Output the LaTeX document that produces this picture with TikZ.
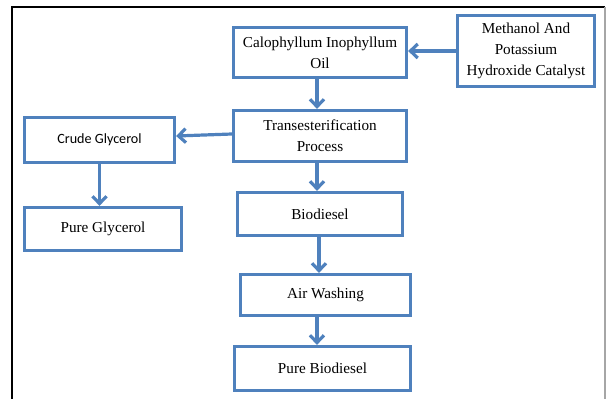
\documentclass[tikz,border=0pt]{standalone}
\usepackage{fontspec}
\setmainfont{Liberation Serif}
\newfontfamily\calibrifont{Carlito}
\usetikzlibrary{arrows.meta}
\definecolor{boxblue}{HTML}{4F81BD}
\tikzset{
  flowbox/.style={draw=boxblue, line width=2.4pt, rectangle, align=center,
    font=\fontsize{11.4pt}{15.5pt}\selectfont, inner sep=2pt},
  sansbox/.style={flowbox, font=\calibrifont\fontsize{10.6pt}{14pt}\selectfont},
  flowarrow/.style={draw=boxblue, line width=2.4pt,
    -{Straight Barb[length=5.5pt,width=10.5pt,line width=2.4pt]}}
}
\begin{document}
\begin{tikzpicture}[x=0.75pt,y=-0.75pt]
\useasboundingbox (0,0) rectangle (606,399);
% outer frame
\draw[line width=1.6pt] (12,399) -- (12,7) -- (605,7);
\draw[line width=0.8pt, gray!70] (605,7) -- (605,399);
% boxes
\node[flowbox, minimum width=173*0.75pt, minimum height=50*0.75pt] (cal) at (320,52.5) {Calophyllum Inophyllum\\Oil};
\node[flowbox, minimum width=137*0.75pt, minimum height=71*0.75pt] (meth) at (526,51) {Methanol And\\Potassium\\Hydroxide Catalyst};
\node[flowbox, minimum width=173*0.75pt, minimum height=51*0.75pt] (trans) at (320,136) {Transesterification\\Process};
\node[sansbox, minimum width=150*0.75pt, minimum height=45*0.75pt] (crude) at (99.5,140) {Crude Glycerol};
\node[flowbox, minimum width=157*0.75pt, minimum height=43*0.75pt] (pglyc) at (103,229) {Pure Glycerol};
\node[flowbox, minimum width=165*0.75pt, minimum height=43*0.75pt] (bio) at (320,214) {Biodiesel};
\node[flowbox, minimum width=170*0.75pt, minimum height=41*0.75pt] (air) at (325.5,295) {Air Washing};
\node[flowbox, minimum width=176*0.75pt, minimum height=44*0.75pt] (pbio) at (322.5,368.5) {Pure Biodiesel};
% arrows
\draw[flowarrow] (meth.west) -- (meth.west -| cal.east);
\draw[flowarrow] ([xshift=-2.25pt]cal.south) -- ([xshift=-2.25pt]trans.north);
\draw[flowarrow] ([yshift=1.5pt]trans.west) -- ([yshift=3pt]crude.east);
\draw[flowarrow] (crude.south) -- (crude.south |- pglyc.north);
\draw[flowarrow] ([xshift=-2.25pt]trans.south) -- ([xshift=-2.25pt]bio.north);
\draw[flowarrow] ([xshift=-0.75pt]bio.south) -- ([xshift=-0.75pt]bio.south |- air.north);
\draw[flowarrow] ([xshift=-6.4pt]air.south) -- ([xshift=-6.4pt]air.south |- pbio.north);
\end{tikzpicture}
\end{document}
